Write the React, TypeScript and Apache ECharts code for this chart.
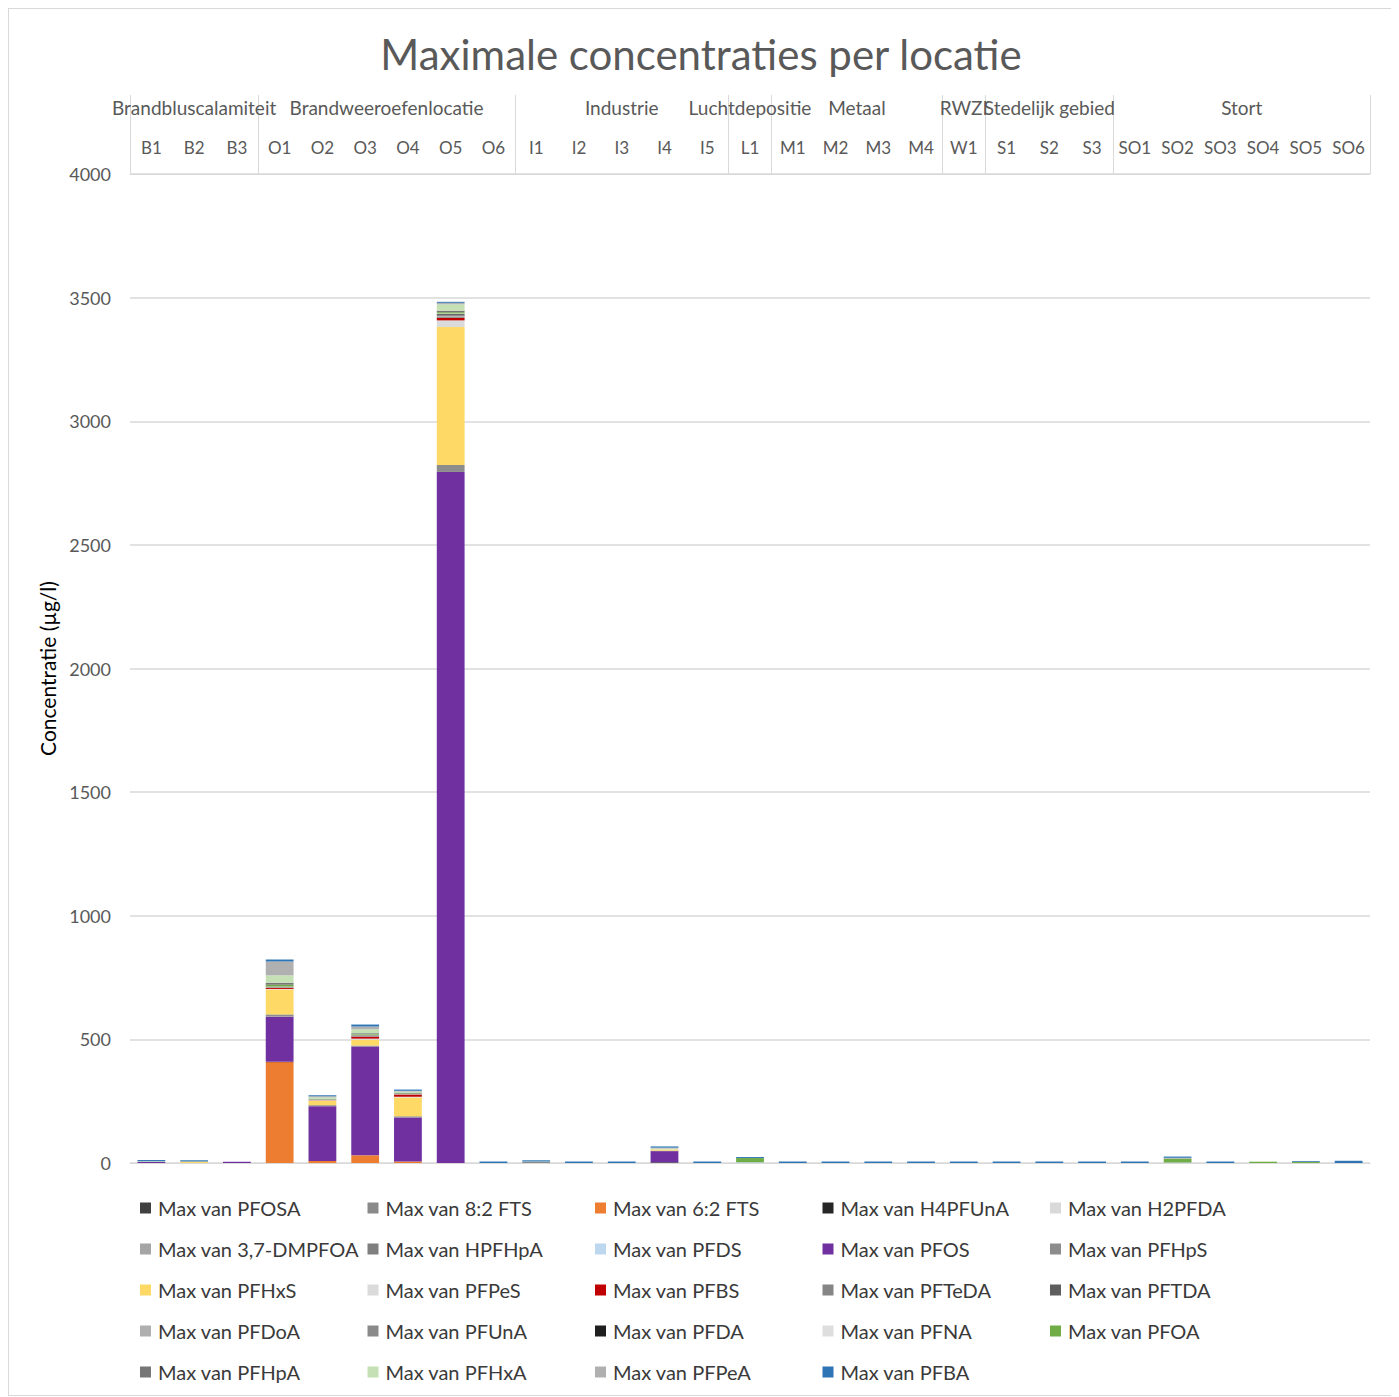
import React, { useEffect, useRef } from "react";
import * as echarts from "echarts";

// Measuring locations, grouped by source type
const locations = [
  "B1", "B2", "B3",
  "O1", "O2", "O3", "O4", "O5", "O6",
  "I1", "I2", "I3", "I4", "I5",
  "L1",
  "M1", "M2", "M3", "M4",
  "W1",
  "S1", "S2", "S3",
  "SO1", "SO2", "SO3", "SO4", "SO5", "SO6",
];
const groupNames = [
  "Brandbluscalamiteit",
  "Brandweeroefenlocatie",
  "Industrie",
  "Luchtdepositie",
  "Metaal",
  "RWZI",
  "Stedelijk gebied",
  "Stort",
];
const groupSizes = [3, 6, 5, 1, 4, 1, 3, 6];

// Maximum concentration per substance (µg/l), one value per location
//                 B1 B2 B3 | O1  O2  O3  O4  O5  O6 | I1 I2 I3 I4 I5 | L1 | M1-M4 | W1 | S1-S3 | SO1-SO6
const PFOSA =     [0, 0, 0, 0, 0, 0, 0, 0, 0, 0, 0, 0, 3, 0, 0, 0, 0, 0, 0, 0, 0, 0, 0, 0, 0, 0, 0, 0, 0];
const FTS82 =     [0, 0, 0, 0, 0, 0, 0, 0, 0, 4, 0, 0, 0, 0, 0, 0, 0, 0, 0, 0, 0, 0, 0, 0, 0, 0, 0, 0, 0];
const FTS62 =     [0, 0, 0, 408, 8, 31, 6, 0, 0, 0, 0, 0, 0, 0, 0, 0, 0, 0, 0, 0, 0, 0, 0, 0, 0, 0, 0, 0, 0];
const H4PFUnA =   [0, 0, 0, 1, 0, 0, 0, 0, 0, 0, 0, 0, 0, 0, 0, 0, 0, 0, 0, 0, 0, 0, 0, 0, 0, 0, 0, 0, 0];
const H2PFDA =    [0, 0, 0, 0, 0, 0, 0, 0, 0, 0, 0, 0, 0, 0, 0, 0, 0, 0, 0, 0, 0, 0, 0, 0, 0, 0, 0, 0, 0];
const DMPFOA =    [0, 0, 0, 0, 0, 0, 0, 0, 0, 0, 0, 0, 0, 0, 0, 0, 0, 0, 0, 0, 0, 0, 0, 0, 0, 0, 0, 0, 0];
const HPFHpA =    [0, 0, 0, 0, 0, 0, 0, 0, 0, 0, 0, 0, 0, 0, 0, 0, 0, 0, 0, 0, 0, 0, 0, 0, 0, 0, 0, 0, 0];
const PFDS =      [0, 0, 0, 1, 0, 0, 0, 0, 0, 0, 0, 0, 0, 0, 3, 0, 0, 0, 0, 0, 0, 0, 0, 0, 2, 0, 0, 0, 0];
const PFOS =      [4, 0, 5, 182, 222, 440, 178, 2795, 0, 0, 0, 0, 45, 0, 0, 0, 0, 0, 0, 0, 0, 0, 0, 0, 0, 0, 0, 0, 0];
const PFHpS =     [0, 0, 0, 9, 4, 4, 5, 28, 0, 0, 0, 0, 2, 0, 0, 0, 0, 0, 0, 0, 0, 0, 0, 0, 0, 0, 0, 0, 0];
const PFHxS =     [1, 6, 0, 101, 17, 24, 76, 558, 0, 0, 0, 0, 5, 0, 0, 0, 0, 0, 0, 0, 0, 0, 0, 0, 0, 0, 0, 0, 0];
const PFPeS =     [0, 0, 0, 2, 2, 4, 3, 27, 0, 0, 0, 0, 0, 0, 0, 0, 0, 0, 0, 0, 0, 0, 0, 0, 0, 0, 0, 0, 0];
const PFBS =      [0, 0, 0, 4, 1, 8, 9, 10, 0, 0, 0, 0, 0, 0, 0, 0, 0, 0, 0, 0, 0, 0, 0, 0, 0, 0, 0, 0, 0];
const PFTeDA =    [0, 0, 0, 1, 0, 1, 0, 3, 0, 0, 0, 0, 0, 0, 0, 0, 0, 0, 0, 0, 0, 0, 0, 0, 0, 0, 0, 0, 0];
const PFTDA =     [0, 0, 0, 1, 0, 1, 0, 2, 0, 0, 0, 0, 0, 0, 0, 0, 0, 0, 0, 0, 0, 0, 0, 0, 0, 0, 0, 0, 0];
const PFDoA =     [0, 0, 0, 1, 0, 1, 0, 3, 0, 0, 0, 0, 0, 0, 0, 0, 0, 0, 0, 0, 0, 0, 0, 0, 0, 0, 0, 0, 0];
const PFUnA =     [0, 0, 0, 1, 0, 2, 1, 3, 0, 0, 0, 0, 0, 0, 0, 0, 0, 0, 0, 0, 0, 0, 0, 0, 0, 0, 0, 0, 0];
const PFDA =      [0, 0, 0, 1, 0, 1, 0, 4, 0, 0, 0, 0, 0, 0, 0, 0, 0, 0, 0, 0, 0, 0, 0, 0, 0, 0, 0, 0, 0];
const PFNA =      [0, 0, 0, 1, 2, 2, 1, 3, 0, 0, 0, 0, 0, 0, 0, 0, 0, 0, 0, 0, 0, 0, 0, 0, 0, 0, 0, 0, 0];
const PFOA =      [0, 0, 0, 7, 2, 3, 2, 5, 0, 0, 0, 0, 0, 0, 17, 0, 0, 0, 0, 0, 0, 0, 0, 0, 16, 0, 4, 5, 0];
const PFHpA =     [0, 0, 0, 8, 2, 3, 2, 6, 0, 0, 0, 0, 0, 0, 0, 0, 0, 0, 0, 0, 0, 0, 0, 0, 0, 0, 0, 0, 0];
const PFHxA =     [2, 0, 0, 30, 6, 16, 6, 26, 0, 2, 0, 0, 4, 0, 0, 0, 0, 0, 0, 0, 0, 0, 0, 0, 0, 0, 3, 0, 0];
const PFPeA =     [0, 0, 0, 56, 4, 11, 3, 6, 0, 0, 0, 0, 3, 0, 0, 0, 0, 0, 0, 0, 0, 0, 0, 0, 3, 0, 0, 0, 0];
const PFBA =      [5, 5, 0, 8, 4, 8, 5, 4, 6, 5, 6, 6, 5, 6, 4, 6, 6, 6, 6, 6, 6, 6, 6, 6, 5, 6, 0, 3, 9];

// Stacking order: first entry sits at the bottom of each column
const substances: { name: string; values: number[]; color: string }[] = [
  { name: "Max van PFOSA", values: PFOSA, color: "#404040" },
  { name: "Max van 8:2 FTS", values: FTS82, color: "#8a8a8a" },
  { name: "Max van 6:2 FTS", values: FTS62, color: "#ED7D31" },
  { name: "Max van H4PFUnA", values: H4PFUnA, color: "#262626" },
  { name: "Max van H2PFDA", values: H2PFDA, color: "#D9D9D9" },
  { name: "Max van 3,7-DMPFOA", values: DMPFOA, color: "#A5A5A5" },
  { name: "Max van HPFHpA", values: HPFHpA, color: "#7F7F7F" },
  { name: "Max van PFDS", values: PFDS, color: "#BDD7EE" },
  { name: "Max van PFOS", values: PFOS, color: "#7030A0" },
  { name: "Max van PFHpS", values: PFHpS, color: "#8C8C8C" },
  { name: "Max van PFHxS", values: PFHxS, color: "#FFD966" },
  { name: "Max van PFPeS", values: PFPeS, color: "#DBDBDB" },
  { name: "Max van PFBS", values: PFBS, color: "#C00000" },
  { name: "Max van PFTeDA", values: PFTeDA, color: "#858585" },
  { name: "Max van PFTDA", values: PFTDA, color: "#5E5E5E" },
  { name: "Max van PFDoA", values: PFDoA, color: "#AFAFAF" },
  { name: "Max van PFUnA", values: PFUnA, color: "#8A8A8A" },
  { name: "Max van PFDA", values: PFDA, color: "#1F1F1F" },
  { name: "Max van PFNA", values: PFNA, color: "#DEDEDE" },
  { name: "Max van PFOA", values: PFOA, color: "#70AD47" },
  { name: "Max van PFHpA", values: PFHpA, color: "#767676" },
  { name: "Max van PFHxA", values: PFHxA, color: "#C5E0B4" },
  { name: "Max van PFPeA", values: PFPeA, color: "#B0B0B0" },
  { name: "Max van PFBA", values: PFBA, color: "#2E75B6" },
];

const FONT = "Lato, 'Noto Sans', sans-serif";
const GRAY_TEXT = "#595959";
const LINE = "#D9D9D9";
const LEGEND_COLUMNS = 5;

export default function App() {
  const ref = useRef<HTMLDivElement>(null);

  useEffect(() => {
    if (!ref.current) return;
    const chart = echarts.init(ref.current, null, { renderer: "svg" });

    // group boundaries and centres on a 0..n scale across the locations
    const bounds: number[] = [0];
    groupSizes.forEach((s) => bounds.push(bounds[bounds.length - 1] + s));
    const centres = groupSizes.map((s, i) => bounds[i] + s / 2);

    const legends = Array.from({ length: LEGEND_COLUMNS }, (_, c) => ({
      orient: "vertical" as const,
      left: 126 + c * 227.5,
      top: 1184,
      itemWidth: 11,
      itemHeight: 11,
      itemGap: 21,
      icon: "rect",
      selectedMode: false,
      textStyle: {
        fontFamily: FONT,
        fontSize: 20,
        lineHeight: 20,
        color: "#3a3a3a",
        padding: [0, 0, 0, 2],
      },
      data: substances.filter((_, i) => i % LEGEND_COLUMNS === c).map((s) => s.name),
    }));

    chart.setOption({
      animation: false,
      backgroundColor: "#ffffff",
      title: {
        text: "Maximale concentraties per locatie",
        left: "center",
        top: 19,
        textStyle: {
          fontFamily: FONT,
          fontSize: 42,
          fontWeight: "normal",
          color: GRAY_TEXT,
        },
      },
      legend: legends,
      grid: { left: 121, right: 23, top: 165, bottom: 232, containLabel: false },
      xAxis: [
        {
          type: "category",
          position: "top",
          data: locations,
          axisLine: { show: true, lineStyle: { color: LINE, width: 1 } },
          axisTick: { show: false },
          axisLabel: {
            interval: 0,
            margin: 18,
            fontFamily: FONT,
            fontSize: 17,
            color: GRAY_TEXT,
          },
          splitLine: { show: false },
        },
        {
          type: "value",
          position: "top",
          min: 0,
          max: locations.length,
          axisLine: { show: true, lineStyle: { color: LINE, width: 1 } },
          axisTick: {
            show: true,
            customValues: bounds,
            length: 79,
            lineStyle: { color: LINE, width: 1 },
          },
          axisLabel: {
            show: true,
            customValues: centres,
            margin: 57,
            fontFamily: FONT,
            fontSize: 19,
            color: GRAY_TEXT,
            formatter: (v: number) => {
              const i = centres.findIndex((c) => Math.abs(c - v) < 1e-6);
              return i >= 0 ? groupNames[i] : "";
            },
          },
          splitLine: { show: false },
        },
      ],
      yAxis: {
        type: "value",
        min: 0,
        max: 4000,
        interval: 500,
        name: "Concentratie (µg/l)",
        nameLocation: "middle",
        nameGap: 68,
        nameTextStyle: { fontFamily: FONT, fontSize: 21, color: "#000000" },
        axisLine: { show: false },
        axisTick: { show: false },
        axisLabel: {
          margin: 19,
          fontFamily: FONT,
          fontSize: 18,
          color: GRAY_TEXT,
          formatter: (v: number) => String(v),
        },
        splitLine: { lineStyle: { color: LINE, width: 1.5 } },
      },
      series: substances.map((s) => ({
        name: s.name,
        type: "bar",
        stack: "total",
        xAxisIndex: 0,
        barWidth: "65%",
        itemStyle: { color: s.color },
        emphasis: { disabled: true },
        data: s.values,
      })),
    });

    return () => chart.dispose();
  }, []);

  return (
    <div
      ref={ref}
      style={{
        width: 1384,
        height: 1386,
        border: "1px solid #D9D9D9",
        background: "#ffffff",
      }}
    />
  );
}
